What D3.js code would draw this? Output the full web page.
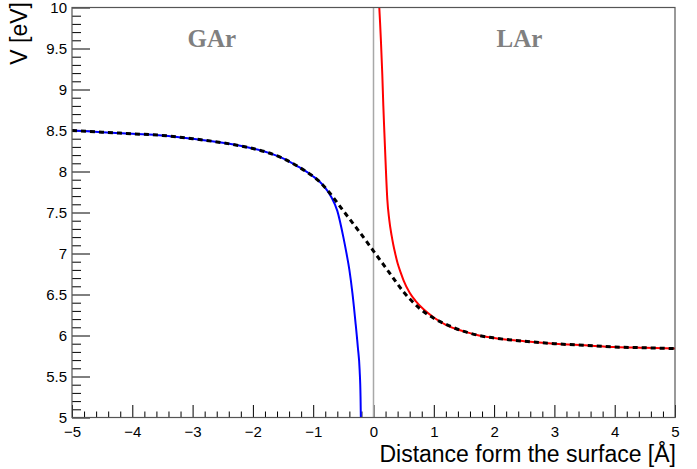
<!DOCTYPE html>
<html>
<head>
<meta charset="utf-8">
<script src="https://cdn.jsdelivr.net/npm/d3@7/dist/d3.min.js"></script>
<style>
  html, body { margin: 0; padding: 0; background: #fff; }
  svg { display: block; }
</style>
</head>
<body>
<svg id="chart" width="697" height="469"></svg>
<script>
// ---- data ----
const xDomain = [-5, 5];
const yDomain = [5, 10];
const xMajorTicks = [-5, -4, -3, -2, -1, 0, 1, 2, 3, 4, 5];
const yMajorTicks = [5, 5.5, 6, 6.5, 7, 7.5, 8, 8.5, 9, 9.5, 10];

// blue: gas side potential
const gasX = [-5, -4.5, -4, -3.5, -3, -2.5, -2, -1.75, -1.5, -1.25, -1, -0.9, -0.8, -0.7, -0.6, -0.5, -0.45, -0.4, -0.35, -0.3, -0.26, -0.23, -0.215, -0.21];
const gasV = [8.50, 8.48, 8.46, 8.44, 8.40, 8.35, 8.28, 8.23, 8.16, 8.06, 7.94, 7.88, 7.80, 7.69, 7.52, 7.20, 7.01, 6.80, 6.52, 6.17, 5.86, 5.58, 5.25, 5.0];

// red: liquid side potential
const liqX = [0.096, 0.11, 0.124, 0.146, 0.163, 0.18, 0.2, 0.229, 0.26, 0.3, 0.33, 0.36, 0.4, 0.45, 0.5, 0.6, 0.7, 0.83, 1.0, 1.2, 1.5, 1.75, 2.0, 2.5, 3.0, 3.5, 4.0, 4.5, 5.0];
const liqV = [10.0, 9.8, 9.58, 9.18, 8.80, 8.48, 8.12, 7.66, 7.42, 7.22, 7.10, 7.00, 6.88, 6.77, 6.67, 6.52, 6.42, 6.32, 6.22, 6.13, 6.05, 6.00, 5.97, 5.93, 5.90, 5.88, 5.86, 5.85, 5.84];

// black dashed: smooth combined potential
const combX = [-5, -4.5, -4, -3.5, -3, -2.5, -2, -1.75, -1.5, -1.25, -1, -0.9, -0.75, -0.5, -0.25, 0, 0.25, 0.5, 0.75, 1.0, 1.25, 1.5, 1.75, 2.0, 2.5, 3.0, 3.5, 4.0, 4.5, 5.0];
const combV = [8.50, 8.48, 8.46, 8.44, 8.40, 8.35, 8.28, 8.23, 8.16, 8.06, 7.94, 7.88, 7.76, 7.52, 7.28, 7.03, 6.78, 6.53, 6.34, 6.21, 6.12, 6.05, 6.00, 5.97, 5.93, 5.90, 5.88, 5.86, 5.85, 5.84];

const regionLabels = ["GAr", "LAr"];
const regionLabelX = [-2.68, 2.42];
const xTitle = "Distance form the surface [Å]";
const yTitle = "V [eV]";

// ---- layout ----
const L = 72, R = 675, T = 7.5, B = 417.5;
const svg = d3.select("#chart");

const x = d3.scaleLinear().domain(xDomain).range([L, R]);
const y = d3.scaleLinear().domain(yDomain).range([B, T]);

const xMinor = d3.range(-5, 5.0001, 0.2).map(v => +v.toFixed(2)).filter(v => !xMajorTicks.includes(v));
const yMinor = d3.range(5, 10.0001, 0.1).map(v => +v.toFixed(2)).filter(v => !yMajorTicks.includes(v));

const fmt = d => (d < 0 ? "\u2212" + Math.abs(d) : String(d));

// minor ticks
svg.append("g").attr("transform", `translate(0,${B})`)
  .call(d3.axisBottom(x).tickValues(xMinor).tickSize(-6).tickFormat(""))
  .call(g => g.select(".domain").remove())
  .call(g => g.selectAll("line").attr("stroke", "#000"));
svg.append("g").attr("transform", `translate(${L},0)`)
  .call(d3.axisLeft(y).tickValues(yMinor).tickSize(-9).tickFormat(""))
  .call(g => g.select(".domain").remove())
  .call(g => g.selectAll("line").attr("stroke", "#000"));

// major ticks + labels
svg.append("g").attr("transform", `translate(0,${B})`)
  .call(d3.axisBottom(x).tickValues(xMajorTicks).tickSize(-12.5).tickPadding(0).tickFormat(fmt))
  .call(g => g.select(".domain").remove())
  .call(g => g.selectAll("line").attr("stroke", "#000"))
  .call(g => g.selectAll("text")
    .attr("y", 19).attr("dy", 0)
    .attr("font-family", "Liberation Sans, Arial, sans-serif")
    .attr("font-size", 15).attr("fill", "#000"));
svg.append("g").attr("transform", `translate(${L},0)`)
  .call(d3.axisLeft(y).tickValues(yMajorTicks).tickSize(-18).tickFormat(fmt))
  .call(g => g.select(".domain").remove())
  .call(g => g.selectAll("line").attr("stroke", "#000"))
  .call(g => g.selectAll("text")
    .attr("x", -5).attr("dy", "0.35em")
    .attr("font-family", "Liberation Sans, Arial, sans-serif")
    .attr("font-size", 15).attr("fill", "#000"));

// clip
svg.append("clipPath").attr("id", "clip")
  .append("rect").attr("x", L).attr("y", T).attr("width", R - L).attr("height", B - T);

const plot = svg.append("g").attr("clip-path", "url(#clip)");

// vertical line at surface
plot.append("line")
  .attr("x1", x(0)).attr("x2", x(0)).attr("y1", y(10)).attr("y2", y(5))
  .attr("stroke", "#a8a8a8").attr("stroke-width", 1.5);

const line = d3.line().x(d => x(d[0])).y(d => y(d[1])).curve(d3.curveMonotoneX);

plot.append("path").datum(gasX.map((v, i) => [v, gasV[i]]))
  .attr("d", line).attr("fill", "none").attr("stroke", "#0000ff").attr("stroke-width", 2);
plot.append("path").datum(liqX.map((v, i) => [v, liqV[i]]))
  .attr("d", line).attr("fill", "none").attr("stroke", "#ff0000").attr("stroke-width", 2);
plot.append("path").datum(combX.map((v, i) => [v, combV[i]]))
  .attr("d", line).attr("fill", "none").attr("stroke", "#000").attr("stroke-width", 3)
  .attr("stroke-dasharray", "5,4");

// frame
svg.append("rect").attr("x", L).attr("y", T).attr("width", R - L).attr("height", B - T)
  .attr("fill", "none").attr("stroke", "#555").attr("stroke-width", 1.2);

// region labels
svg.selectAll("text.region").data(regionLabels).enter().append("text")
  .attr("class", "region")
  .attr("x", (d, i) => x(regionLabelX[i])).attr("y", 47)
  .attr("text-anchor", "middle")
  .attr("font-family", "Liberation Serif, Times New Roman, serif")
  .attr("font-weight", "bold").attr("font-size", 25).attr("fill", "#808080")
  .text(d => d);

// axis titles
svg.append("text").attr("x", R + 1).attr("y", 462).attr("text-anchor", "end")
  .attr("font-family", "Liberation Sans, Arial, sans-serif").attr("font-size", 23)
  .attr("fill", "#000").text(xTitle);
svg.append("text").attr("transform", `translate(27,2) rotate(-90)`).attr("text-anchor", "end")
  .attr("font-family", "Liberation Sans, Arial, sans-serif").attr("font-size", 23)
  .attr("fill", "#000").text(yTitle);
</script>
</body>
</html>
